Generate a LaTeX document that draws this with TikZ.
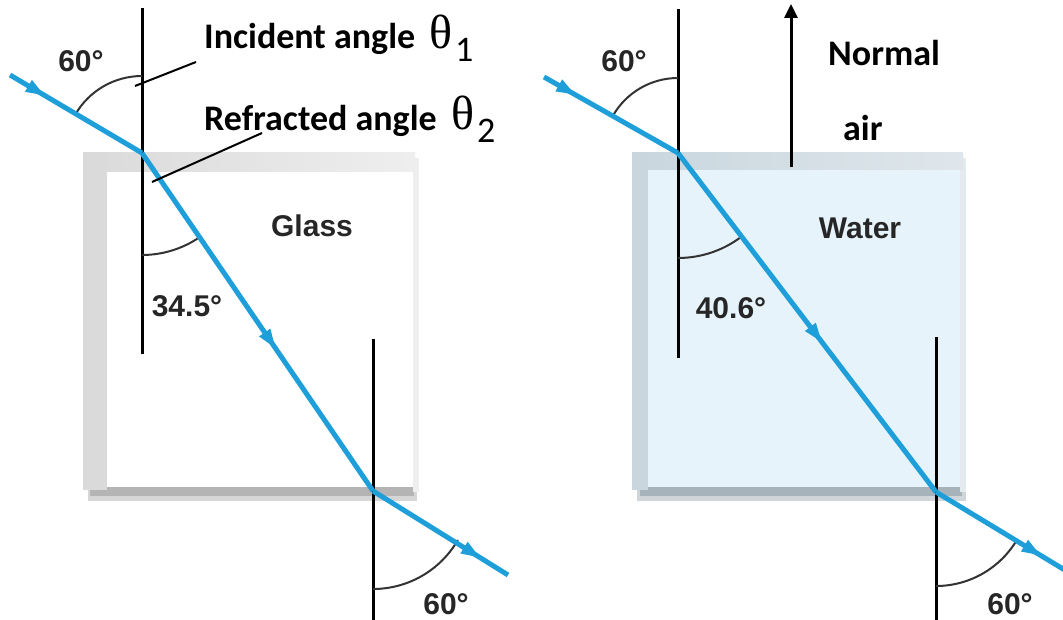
\documentclass[tikz,border=0pt]{standalone}
\usepackage{fontspec}
\newfontfamily\calfont{Carlito}
\newfontfamily\helvfont{Liberation Sans}
\newfontfamily\thfont{Liberation Serif}
\usetikzlibrary{arrows.meta,decorations.markings}
\definecolor{raycol}{HTML}{1E9FD9}
\definecolor{glassband}{HTML}{DADADA}
\definecolor{glassshadow}{HTML}{B4B4B4}
\definecolor{waterfill}{HTML}{E7F3FB}
\definecolor{waterband}{HTML}{C9D6DE}
\definecolor{watershadow}{HTML}{A7B3BA}
\definecolor{arccol}{HTML}{333333}
\tikzset{
  lightray/.style={raycol, line width=5pt},
  midhead/.style={postaction={decorate}, decoration={markings,
     mark=at position #1 with {\arrow[raycol]{Triangle[length=20pt,width=12pt]}}}},
  normalline/.style={black, line width=3pt},
  anglearc/.style={arccol, line width=2pt},
  numlabel/.style={font=\helvfont\bfseries\fontsize{30}{32}\selectfont, text=black!85, inner sep=0pt},
  mainlabel/.style={font=\calfont\bfseries\fontsize{36}{40}\selectfont, inner sep=0pt, anchor=base west},
  thlabel/.style={font=\thfont\fontsize{48}{52}\selectfont, inner sep=0pt, anchor=base west},
  sublabel/.style={font=\calfont\fontsize{36}{40}\selectfont, inner sep=0pt, anchor=base west},
  leader/.style={black, line width=2pt}
}
\begin{document}
\begin{tikzpicture}[x=1pt,y=1pt]
\useasboundingbox (0,0) rectangle (1063,-620);
\fill[white] (0,0) rectangle (1063,-620);

% ---------- Glass block ----------
\fill[glassshadow!55] (88,-487) rectangle (417,-501);
\fill[glassshadow] (90,-487) rectangle (414,-496);
\fill[glassband!45] (413,-158) rectangle (419,-492);
\fill[left color=glassband, right color=glassband!45] (83,-153) rectangle (415,-172);
\fill[glassband] (83,-153) rectangle (107,-490);
\fill[white] (107,-172) rectangle (413,-487);

% ---------- Water block ----------
\fill[watershadow!55] (637,-487) rectangle (966,-501);
\fill[watershadow] (640,-487) rectangle (962,-496);
\fill[waterband!50] (960,-158) rectangle (966,-492);
\fill[left color=waterband, right color=waterband!60] (632,-153) rectangle (963,-170);
\fill[waterband] (632,-153) rectangle (648,-490);
\fill[waterfill] (648,-170) rectangle (960,-487);

% ---------- Left panel coordinates ----------
\coordinate (LS) at (10,-75);
\coordinate (LA) at (142,-153);
\coordinate (LB) at (373,-491);
\coordinate (LE) at (508,-575);
\coordinate (LN1top) at (142,-8);
\coordinate (LN1bot) at (142,-354);
\coordinate (LN2top) at (373,-339);
\coordinate (LN2bot) at (373,-620);

% normals
\draw[normalline] (LN1top) -- (LN1bot);
\draw[normalline] (LN2top) -- (LN2bot);

% angle arcs
\draw[anglearc] ([shift={(90:77)}]LA) arc[start angle=90, end angle=150, radius=77];
\draw[anglearc] ([shift={(270:102)}]LA) arc[start angle=270, end angle=304.3, radius=102];
\draw[anglearc] ([shift={(270:98)}]LB) arc[start angle=270, end angle=330, radius=98];

% ray
\draw[lightray, midhead=0.27] (LS) -- (LA);
\draw[lightray, midhead=0.58] (LA) -- (LB);
\draw[lightray, midhead=0.8] (LB) -- (LE);

% labels
\node[numlabel] (l60a) at (81,-61) {60°};
\node[numlabel] (l345) at (187,-306) {34.5°};
\node[numlabel] (l60b) at (446,-604) {60°};
\node[numlabel] (glass) at (312,-226) {Glass};

\node[mainlabel] (inc) at (204,-49) {Incident angle};
\node[thlabel] (th1) at (429,-49) {θ};
\node[sublabel] (sub1) at (455,-62) {1};
\node[mainlabel] (refr) at (204,-131) {Refracted angle};
\node[thlabel] (th2) at (451,-130) {θ};
\node[sublabel] (sub2) at (477,-143) {2};

\coordinate (inclead) at (196,-62);
\coordinate (incend) at (135,-86);
\coordinate (refrlead) at (262,-133);
\coordinate (refrend) at (152,-182);
\draw[leader] (inclead) -- (incend);
\draw[leader] (refrlead) -- (refrend);

% ---------- Right panel coordinates ----------
\coordinate (RS) at (544,-77);
\coordinate (RA) at (678,-153);
\coordinate (RB) at (936,-492);
\coordinate (RE) at (1068,-572);
\coordinate (RN1top) at (678,-9);
\coordinate (RN1bot) at (678,-358);
\coordinate (RN2top) at (936,-337);
\coordinate (RN2bot) at (936,-620);

\draw[normalline] (RN1top) -- (RN1bot);
\draw[normalline] (RN2top) -- (RN2bot);

\draw[anglearc] ([shift={(90:75)}]RA) arc[start angle=90, end angle=150, radius=75];
\draw[anglearc] ([shift={(270:105)}]RA) arc[start angle=270, end angle=307, radius=105];
\draw[anglearc] ([shift={(270:94)}]RB) arc[start angle=270, end angle=330, radius=94];

\draw[lightray, midhead=0.24] (RS) -- (RA);
\draw[lightray, midhead=0.56] (RA) -- (RB);
\draw[lightray, midhead=0.8] (RB) -- (RE);

\node[numlabel] (r60a) at (624,-61) {60°};
\node[numlabel] (r406) at (731,-308) {40.6°};
\node[numlabel] (r60b) at (1010,-604) {60°};
\node[numlabel] (water) at (860,-228) {Water};

% Normal arrow
\coordinate (nbot) at (791,-167);
\coordinate (ntop) at (791,-4);
\draw[black, line width=3pt, -{Triangle[length=14pt,width=13pt]}] (nbot) -- (ntop);
\node[mainlabel] (normal) at (828,-66) {Normal};
\node[mainlabel] (air) at (843,-141) {air};
\end{tikzpicture}
\end{document}
